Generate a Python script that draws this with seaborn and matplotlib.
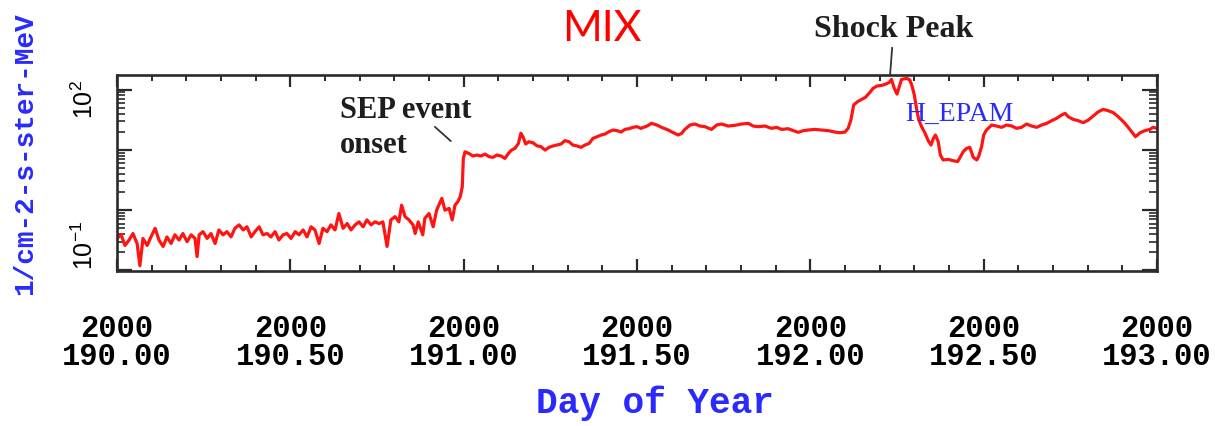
import numpy as np
import pandas as pd
import matplotlib
matplotlib.use("Agg")
import matplotlib.pyplot as plt
import matplotlib.transforms as mtransforms
from matplotlib.ticker import FixedLocator, FixedFormatter, LogLocator, MultipleLocator, NullFormatter
import seaborn as sns

# Proton flux time series, EPAM channel (day of year 2000)
day = [
    190.000, 190.012, 190.023, 190.035, 190.046, 190.058, 190.066, 190.075, 190.087, 190.098,
    190.110, 190.121, 190.133, 190.144, 190.156, 190.167, 190.179, 190.190, 190.202, 190.214,
    190.225, 190.231, 190.237, 190.248, 190.260, 190.271, 190.283, 190.294, 190.306, 190.317,
    190.329, 190.340, 190.352, 190.364, 190.375, 190.387, 190.398, 190.410, 190.421, 190.433,
    190.444, 190.456, 190.467, 190.479, 190.490, 190.502, 190.514, 190.525, 190.537, 190.548,
    190.560, 190.571, 190.583, 190.594, 190.606, 190.617, 190.629, 190.640, 190.652, 190.664,
    190.675, 190.687, 190.698, 190.710, 190.721, 190.733, 190.744, 190.756,
    190.767, 190.779, 190.790, 190.802, 190.813, 190.821, 190.831, 190.842, 190.854, 190.860,
    190.869, 190.882, 190.888, 190.900, 190.912, 190.922, 190.937, 190.946, 190.958, 190.967,
    190.975, 190.983, 190.990, 190.996, 190.999, 191.004, 191.015, 191.027, 191.038, 191.050,
    191.062, 191.073, 191.085, 191.096, 191.108, 191.119, 191.129, 191.138, 191.148, 191.158,
    191.165, 191.171, 191.179, 191.188, 191.200, 191.212, 191.223, 191.235, 191.246, 191.258,
    191.269, 191.281, 191.292, 191.304, 191.315, 191.327, 191.338, 191.350, 191.362, 191.373,
    191.385, 191.396, 191.408, 191.419, 191.431, 191.442, 191.454, 191.465, 191.477, 191.488,
    191.500,
    191.511, 191.529, 191.542, 191.557, 191.571, 191.590, 191.605, 191.619, 191.629, 191.638,
    191.653, 191.667, 191.682, 191.696, 191.715, 191.730, 191.744, 191.763, 191.783, 191.802,
    191.821, 191.835, 191.850, 191.869, 191.888, 191.903, 191.917, 191.936, 191.951, 191.965,
    191.980, 191.994, 192.013, 192.033, 192.052, 192.071, 192.085, 192.100, 192.109, 192.117,
    192.125, 192.136, 192.148, 192.159, 192.171, 192.181, 192.192, 192.206, 192.217, 192.227,
    192.234, 192.242, 192.250,
    192.263, 192.278, 192.287, 192.294, 192.300, 192.307, 192.313, 192.321, 192.331, 192.340,
    192.348, 192.355, 192.361, 192.369, 192.375, 192.383, 192.398, 192.412, 192.425, 192.432,
    192.441, 192.451, 192.460, 192.470, 192.480, 192.486, 192.494, 192.500, 192.508, 192.523,
    192.537, 192.552, 192.566, 192.581, 192.595, 192.609, 192.624, 192.638, 192.653, 192.667,
    192.682, 192.696, 192.710, 192.725, 192.735, 192.744, 192.758, 192.773, 192.787, 192.802,
    192.816, 192.831, 192.845, 192.859, 192.874, 192.888, 192.903, 192.917, 192.929, 192.938,
    192.951, 192.965, 192.980, 192.988, 193.000,
]

flux = [
    0.34, 0.39, 0.26, 0.32, 0.41, 0.28, 0.12, 0.34, 0.26, 0.36,
    0.50, 0.32, 0.25, 0.36, 0.28, 0.39, 0.32, 0.41, 0.30, 0.39,
    0.34, 0.17, 0.39, 0.44, 0.34, 0.41, 0.28, 0.47, 0.39, 0.44,
    0.36, 0.50, 0.57, 0.47, 0.53, 0.36, 0.44, 0.53, 0.39, 0.41,
    0.36, 0.44, 0.32, 0.39, 0.41, 0.34, 0.44, 0.39, 0.47, 0.36,
    0.53, 0.47, 0.28, 0.50, 0.44, 0.57, 0.47, 0.88, 0.50, 0.60,
    0.47, 0.57, 0.64, 0.53, 0.69, 0.57, 0.64, 0.60,
    0.64, 0.25, 0.69, 0.78, 0.64, 1.21, 0.78, 0.69, 0.57, 0.41,
    0.64, 0.39, 0.73, 0.88, 0.53, 1.00, 1.57, 1.00, 1.07, 0.69,
    1.21, 1.38, 1.67, 2.45, 7.2, 9.3, 8.7, 7.9, 8.2, 7.9,
    8.5, 7.7, 7.5, 8.2, 7.9, 7.2, 8.7, 9.9, 10.6, 12.8,
    18.8, 16.5, 12.5, 13.6, 13.1, 11.6, 11.3, 9.9, 11.0, 11.6,
    12.0, 12.5, 14.2, 13.6, 12.0, 11.6, 11.0, 12.0, 12.8, 15.5,
    16.5, 17.6, 18.3, 20.0, 21.3, 20.8, 19.7, 21.8, 22.4, 23.6,
    24.2,
    22.7, 24.8, 27.5, 25.8, 23.6, 21.3, 19.2, 17.6, 18.8, 21.8,
    25.8, 26.8, 24.8, 24.2, 21.8, 25.8, 26.8, 24.8, 25.5, 26.8,
    27.5, 24.8, 24.2, 24.8, 22.7, 23.6, 21.8, 22.4, 20.8, 19.5,
    20.8, 21.3, 21.8, 21.3, 20.8, 19.7, 19.2, 19.7, 22.7, 31.2,
    55.3, 62.8, 68.7, 74.2, 88.6, 104.6, 114, 117, 123, 130,
    147, 105, 84,
    147, 153, 144, 111, 81, 45.7, 31.2, 24.2, 18.8, 14.2,
    12.0, 15.5, 17.6, 13.6, 8.2, 6.8, 6.95, 6.6, 6.4, 7.5,
    9.3, 10.6, 11.0, 7.5, 6.8, 7.9, 11.3, 17.6, 21.3, 25.8,
    24.8, 23.6, 25.8, 24.8, 22.7, 23.6, 26.8, 24.8, 23.6, 25.8,
    27.5, 30.4, 33.2, 37.8, 40.2, 35.4, 32.0, 30.4, 28.2, 31.2,
    36.4, 42.9, 46.9, 44.6, 41.3, 35.4, 29.3, 23.6, 19.2, 16.5,
    19.2, 20.8, 21.8, 23.6, 22.7,
]

year_labels = ["2000", "2000", "2000", "2000", "2000", "2000", "2000"]
day_ticks = [190.0, 190.5, 191.0, 191.5, 192.0, 192.5, 193.0]
y_ticks = [0.1, 1, 10, 100]
y_tick_labels = ["10$^{-1}$", "", "", "10$^{2}$"]

df = pd.DataFrame({"day": day, "flux": flux})

sns.set_theme(style="white")
plt.rcParams["font.family"] = ["Liberation Mono", "DejaVu Sans"]
plt.rcParams["mathtext.fontset"] = "custom"
plt.rcParams["mathtext.rm"] = "Liberation Sans"
plt.rcParams["mathtext.it"] = "Liberation Sans:italic"

fig = plt.figure(figsize=(12.15, 4.26), dpi=100)
ax = fig.add_axes([117 / 1215, 1 - 271 / 426, 1040 / 1215, 196 / 426])

sns.lineplot(data=df, x="day", y="flux", ax=ax, color="#ff1414",
             linewidth=2.3, estimator=None, sort=False)

ax.set_yscale("log")
ax.set_xlim(190, 193)
ax.set_ylim(0.098, 174)

frame_col = "#2b2b2b"
for sp in ax.spines.values():
    sp.set_color(frame_col)
    sp.set_linewidth(1.9)

ax.set_xticks(day_ticks)
ax.set_xticklabels([f"{y}\n{d:.2f}" for y, d in zip(year_labels, day_ticks)],
                   fontsize=22, fontweight="bold", linespacing=0.92)
ax.xaxis.set_minor_locator(MultipleLocator(0.1))

ax.yaxis.set_major_locator(FixedLocator(y_ticks))
ax.yaxis.set_major_formatter(FixedFormatter(y_tick_labels))
ax.yaxis.set_minor_locator(LogLocator(base=10, subs=np.arange(2, 10)))
ax.yaxis.set_minor_formatter(NullFormatter())

ax.tick_params(axis="x", which="major", direction="in", length=8.5, width=1.6,
               colors=frame_col, labelcolor="black", top=True, bottom=True, pad=31)
ax.tick_params(axis="x", which="minor", direction="in", length=4.5, width=1.4,
               colors=frame_col, top=True, bottom=True)
ax.tick_params(axis="y", which="major", direction="in", length=11, width=1.6,
               colors=frame_col, labelcolor="black", left=True, right=True, pad=14)
ax.tick_params(axis="y", which="minor", direction="in", length=5.5, width=1.2,
               colors=frame_col, left=True, right=True)

# Rotated decade labels: lower one sits above its tick, upper one a little below
y_shift = {"10$^{-1}$": ("bottom", 0.0), "10$^{2}$": ("center", -0.10)}
for lbl in ax.get_yticklabels():
    lbl.set_rotation(90)
    lbl.set_fontsize(18)
    lbl.set_family("Liberation Sans")
    key = lbl.get_text()
    if key in y_shift:
        va, dy = y_shift[key]
        lbl.set_va(va)
        if dy:
            lbl.set_transform(lbl.get_transform() +
                              mtransforms.ScaledTranslation(0, dy, fig.dpi_scale_trans))

ax.set_xlabel("Day of Year", fontsize=26, fontweight="bold", color="#2a2aff")
ax.xaxis.set_label_coords(0.517, -0.585)
ax.set_ylabel("1/cm-2-s-ster-MeV", fontsize=20, fontweight="bold", color="#2a2aff")
ax.yaxis.set_label_coords(-0.076, 0.60)

# Event annotations
ax.text(190.642, 23, "SEP event\nonset", fontsize=22, fontweight="bold",
        family="Liberation Serif", color="#1e1e1e", ha="left", va="center",
        linespacing=1.3)
ax.annotate("", xy=(190.969, 13.0), xytext=(190.911, 25.8),
            arrowprops=dict(arrowstyle="-", color="#333333", lw=1.3))
ax.annotate("Shock Peak", xy=(192.230, 174), xytext=(192.240, 560),
            fontsize=23, fontweight="bold", family="Liberation Serif",
            color="#1e1e1e", ha="center", va="bottom", annotation_clip=False,
            arrowprops=dict(arrowstyle="-", color="#333333", lw=1.3,
                            shrinkA=0, shrinkB=0))
ax.text(192.275, 39, "H_EPAM", fontsize=20, family="Liberation Serif",
        color="#2a2aff", ha="left", va="center")

fig.text(602 / 1215, 1 - 29 / 426, "MIX", fontsize=31, family="Lato",
         color="#ff0000", ha="center", va="center")

fig.savefig("out.png", dpi=100)
